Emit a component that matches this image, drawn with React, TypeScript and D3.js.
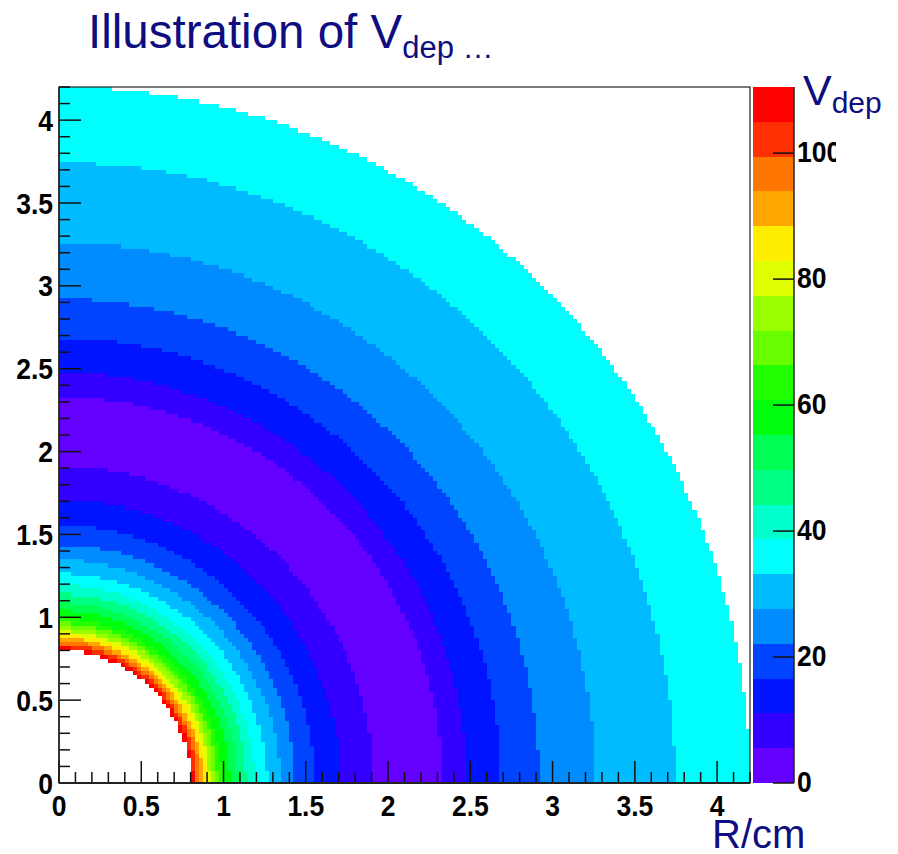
import React from "react";
import * as d3 from "d3";

// ---- data ----
// Concentric rings of the V_dep map: outer radius (cm) of each ring and its V_dep value
const innerRadius = 0.8;
const ringOuterR = [
  0.815, 0.835, 0.855, 0.875, 0.895, 0.915, 0.94, 0.965, 0.995, 1.04,
  1.09, 1.14, 1.195, 1.265, 1.345, 1.435, 1.555, 1.71, 1.91, 2.33,
  2.48, 2.685, 2.92, 3.26, 3.745, 4.2,
];
const ringV = [
  108, 102.5, 97, 91.5, 86, 80.5, 75, 69.5, 63.5, 58,
  52.5, 47, 41.5, 36, 30.5, 25, 19.5, 14, 8.5, 3,
  8.5, 14, 19.5, 25, 30.5, 36,
];
const binSize = 0.025;
const axisMax = 4.2;
const zMax = 110.5;
const nLevels = 20;
const xTickLabels = [0, 0.5, 1, 1.5, 2, 2.5, 3, 3.5, 4];
const yTickLabels = [0, 0.5, 1, 1.5, 2, 2.5, 3, 3.5, 4];
const zTickLabels = [0, 20, 40, 60, 80, 100];

const W = 898;
const H = 854;
const frame = { left: 59, right: 750, top: 87, bottom: 783 };
const bar = { left: 753, right: 794 };
const navy = "#0e0e80";
const labelFont = "'Liberation Sans', Arial, Helvetica, sans-serif";

function levelColor(k: number): string {
  const idx = Math.floor(((k + 0.99) * 50) / nLevels);
  const hue = 280 - (idx + 1) * 5.6;
  return d3.hsl(hue, 1, 0.5).formatHex();
}

function Label(props: { x: number; y: number; anchor: string; text: string }) {
  return (
    <text
      transform={`translate(${props.x},${props.y}) scale(1,1.13)`}
      fontSize={26.5}
      fontWeight="bold"
      textAnchor={props.anchor}
      fill="#000"
    >
      {props.text}
    </text>
  );
}

export default function App() {
  const x = d3.scaleLinear().domain([0, axisMax]).range([frame.left, frame.right]);
  const y = d3.scaleLinear().domain([0, axisMax]).range([frame.bottom, frame.top]);
  const z = d3.scaleLinear().domain([0, zMax]).range([frame.bottom, frame.top]);
  const level = (v: number) => Math.min(nLevels - 1, Math.max(0, Math.floor((v / zMax) * nLevels)));

  const nBins = Math.round(axisMax / binSize);
  const cells: { x0: number; x1: number; j: number; k: number }[] = [];
  for (let j = 0; j < nBins; j++) {
    const yc = (j + 0.5) * binSize;
    let runStart = -1;
    let runK = -1;
    for (let i = 0; i <= nBins; i++) {
      let k = -1;
      if (i < nBins) {
        const xc = (i + 0.5) * binSize;
        const r = Math.sqrt(xc * xc + yc * yc);
        if (r >= innerRadius && r < ringOuterR[ringOuterR.length - 1]) {
          const ri = d3.bisectRight(ringOuterR, r);
          k = level(ringV[ri]);
        }
      }
      if (k !== runK) {
        if (runK >= 0) cells.push({ x0: runStart, x1: i, j, k: runK });
        runStart = i;
        runK = k;
      }
    }
  }

  const minorTicks = d3.range(0, axisMax + 1e-9, 0.1).map((v) => +v.toFixed(2));
  const isMajor = (v: number) => Math.abs(v / 0.5 - Math.round(v / 0.5)) < 1e-6;

  return (
    <svg
      width={W}
      height={H}
      style={{ position: "absolute", left: 0, top: 0, background: "#fff" }}
      fontFamily={labelFont}
    >
      <defs>
        <clipPath id="zlab">
          <rect x={790} y={0} width={46} height={H} />
        </clipPath>
      </defs>
      {/* title */}
      <text x={88} y={48} fontSize={47.5} fill={navy}>
        Illustration of V
        <tspan fontSize={31} dy={10}>dep …</tspan>
      </text>

      {/* histogram cells */}
      <g shapeRendering="crispEdges">
        {cells.map((c, n) => {
          const x0 = Math.round(x(c.x0 * binSize));
          const x1 = Math.round(x(c.x1 * binSize));
          const y0 = Math.round(y((c.j + 1) * binSize));
          const y1 = Math.round(y(c.j * binSize));
          return <rect key={n} x={x0} y={y0} width={x1 - x0} height={y1 - y0} fill={levelColor(c.k)} />;
        })}
      </g>

      {/* frame */}
      <rect
        x={frame.left}
        y={frame.top}
        width={frame.right - frame.left}
        height={frame.bottom - frame.top}
        fill="none"
        stroke="#222"
        strokeWidth={1.2}
      />

      {/* ticks */}
      <g stroke="#111" strokeWidth={1.5}>
        {minorTicks.map((v) => (
          <line key={"xt" + v} x1={x(v)} x2={x(v)} y1={frame.bottom} y2={frame.bottom - (isMajor(v) ? 22 : 11)} />
        ))}
        {minorTicks.map((v) => (
          <line key={"yt" + v} y1={y(v)} y2={y(v)} x1={frame.left} x2={frame.left + (isMajor(v) ? 22 : 11)} />
        ))}
      </g>
      <line x1={frame.left} x2={frame.right} y1={frame.bottom} y2={frame.bottom} stroke="#222" strokeWidth={2} />
      <line x1={frame.left} x2={frame.left} y1={frame.top} y2={frame.bottom} stroke="#222" strokeWidth={1.5} />

      {/* x labels */}
      {xTickLabels.map((v) => (
        <Label key={"xl" + v} x={x(v)} y={frame.bottom + 33} anchor="middle" text={String(v)} />
      ))}
      {/* y labels */}
      {yTickLabels.map((v) => (
        <Label key={"yl" + v} x={53} y={y(v) + 10.5} anchor="end" text={String(v)} />
      ))}

      {/* colour bar */}
      <g shapeRendering="crispEdges">
        {d3.range(nLevels).map((k) => {
          const v0 = (k * zMax) / nLevels;
          const v1 = ((k + 1) * zMax) / nLevels;
          const y0 = Math.round(z(v1));
          const y1 = Math.round(z(v0));
          return <rect key={"cb" + k} x={bar.left} y={y0} width={bar.right - bar.left} height={y1 - y0} fill={levelColor(k)} />;
        })}
      </g>
      <line x1={bar.right} x2={bar.right} y1={frame.top} y2={frame.bottom} stroke="#222" strokeWidth={1.5} />
      {zTickLabels.map((v) => (
        <line key={"zt" + v} x1={bar.right - 21} x2={bar.right} y1={z(v)} y2={z(v)} stroke="#111" strokeWidth={1.5} />
      ))}
      <g clipPath="url(#zlab)">
        {zTickLabels.map((v) => (
          <Label key={"zl" + v} x={797} y={z(v) + 8.5} anchor="start" text={String(v)} />
        ))}
      </g>

      {/* colour bar title */}
      <text x={803} y={105} fontSize={43} fill={navy}>
        V<tspan fontSize={30} dy={8}>dep</tspan>
      </text>
      {/* axis title */}
      <text x={712} y={848} fontSize={40} fill={navy}>
        R/cm
      </text>
    </svg>
  );
}
